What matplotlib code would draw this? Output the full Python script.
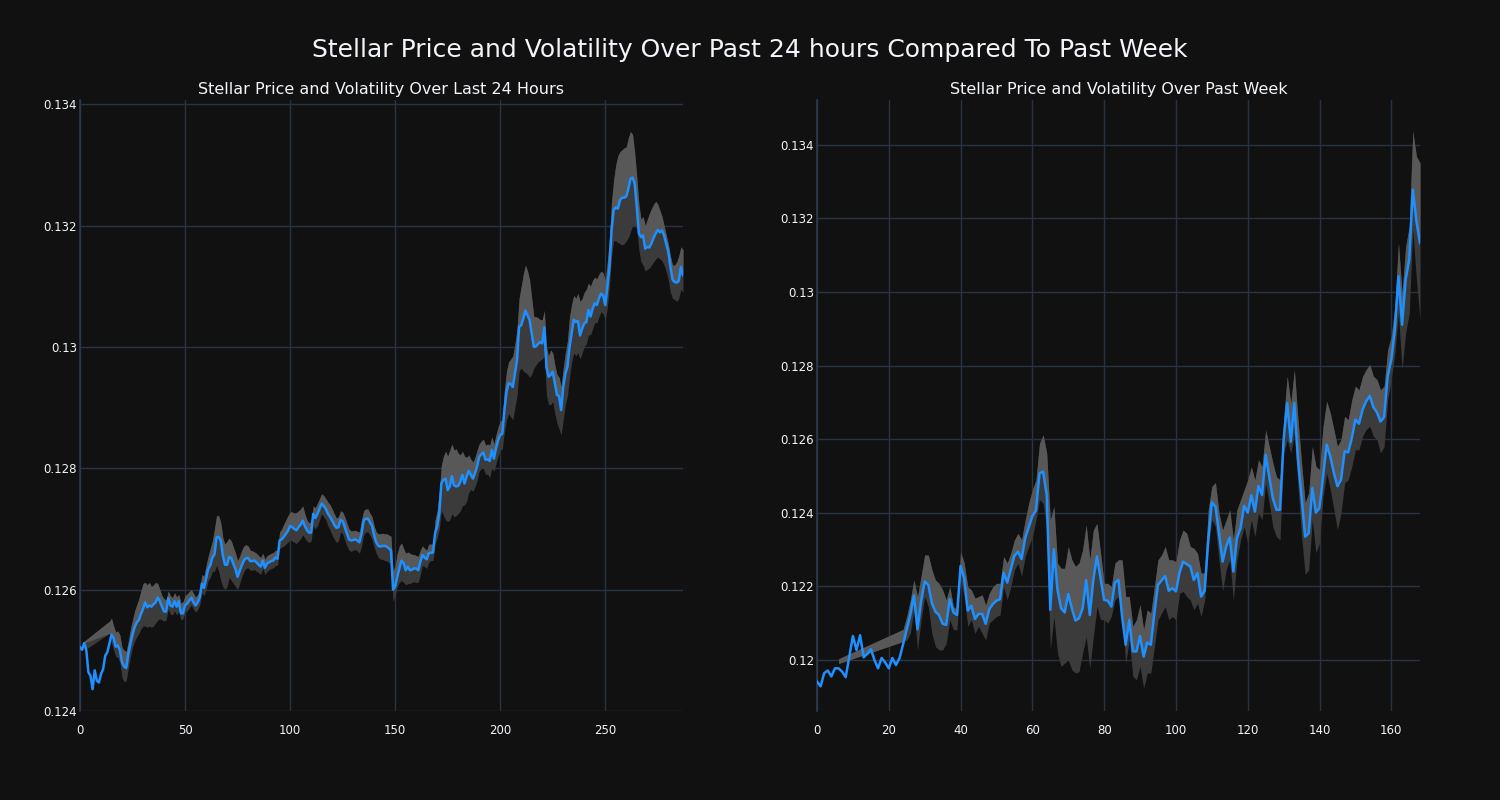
import numpy as np
import matplotlib
matplotlib.use("Agg")
import matplotlib.pyplot as plt
from matplotlib.ticker import FuncFormatter, MultipleLocator

N = None

# ---------------- Last 24 hours (5-minute samples) ----------------
day_price = [
    0.12505, 0.12501, 0.12512, 0.12500, 0.12464, 0.12458, 0.12436, 0.12467, 0.12450, 0.12447,
    0.12461, 0.12469, 0.12491, 0.12497, 0.12511, 0.12526, 0.12520, 0.12506, 0.12508, 0.12500,
    0.12480, 0.12473, 0.12471, 0.12494, 0.12511, 0.12526, 0.12538, 0.12546, 0.12550, 0.12560,
    0.12568, 0.12579, 0.12571, 0.12574, 0.12572, 0.12576, 0.12579, 0.12587, 0.12581, 0.12572,
    0.12564, 0.12564, 0.12586, 0.12574, 0.12572, 0.12581, 0.12572, 0.12581, 0.12561, 0.12561,
    0.12574, 0.12577, 0.12582, 0.12587, 0.12579, 0.12574, 0.12579, 0.12587, 0.12610, 0.12603,
    0.12618, 0.12634, 0.12640, 0.12653, 0.12658, 0.12686, 0.12687, 0.12681, 0.12656, 0.12641,
    0.12641, 0.12654, 0.12652, 0.12642, 0.12634, 0.12621, 0.12631, 0.12640, 0.12648, 0.12652,
    0.12652, 0.12647, 0.12647, 0.12648, 0.12645, 0.12641, 0.12638, 0.12648, 0.12636, 0.12643,
    0.12645, 0.12647, 0.12648, 0.12653, 0.12651, 0.12681, 0.12683, 0.12687, 0.12692, 0.12697,
    0.12705, 0.12703, 0.12700, 0.12698, 0.12703, 0.12707, 0.12714, 0.12705, 0.12698, 0.12694,
    0.12694, 0.12725, 0.12718, 0.12725, 0.12733, 0.12742, 0.12738, 0.12733, 0.12725, 0.12720,
    0.12714, 0.12707, 0.12702, 0.12703, 0.12715, 0.12713, 0.12703, 0.12693, 0.12683, 0.12681,
    0.12682, 0.12683, 0.12681, 0.12678, 0.12692, 0.12714, 0.12717, 0.12717, 0.12711, 0.12705,
    0.12689, 0.12678, 0.12672, 0.12671, 0.12672, 0.12672, 0.12671, 0.12668, 0.12665, 0.12600,
    0.12605, 0.12621, 0.12635, 0.12648, 0.12644, 0.12632, 0.12638, 0.12632, 0.12633, 0.12635,
    0.12635, 0.12632, 0.12646, 0.12657, 0.12653, 0.12650, 0.12660, 0.12661, 0.12661, 0.12693,
    0.12704, 0.12726, 0.12775, 0.12781, 0.12783, 0.12764, 0.12770, 0.12787, 0.12772, 0.12770,
    0.12771, 0.12778, 0.12789, 0.12775, 0.12786, 0.12796, 0.12789, 0.12783, 0.12792, 0.12803,
    0.12819, 0.12823, 0.12826, 0.12814, 0.12815, 0.12812, 0.12830, 0.12816, 0.12833, 0.12846,
    0.12855, 0.12857, 0.12896, 0.12926, 0.12940, 0.12939, 0.12934, 0.12956, 0.12978, 0.13033,
    0.13036, 0.13047, 0.13060, 0.13052, 0.13044, 0.13022, 0.13000, 0.13001, 0.13005, 0.13008,
    0.13006, 0.13032, 0.12967, 0.12951, 0.12954, 0.12959, 0.12940, 0.12921, 0.12919, 0.12896,
    0.12934, 0.12956, 0.12967, 0.13000, 0.13022, 0.13045, 0.13041, 0.13043, 0.13019, 0.13030,
    0.13039, 0.13041, 0.13061, 0.13050, 0.13063, 0.13072, 0.13069, 0.13080, 0.13088, 0.13085,
    0.13069, 0.13099, 0.13132, 0.13192, 0.13226, 0.13230, 0.13228, 0.13242, 0.13246, 0.13246,
    0.13248, 0.13261, 0.13277, 0.13279, 0.13269, 0.13231, 0.13187, 0.13181, 0.13184, 0.13162,
    0.13165, 0.13164, 0.13171, 0.13180, 0.13187, 0.13193, 0.13189, 0.13192, 0.13184, 0.13170,
    0.13157, 0.13132, 0.13111, 0.13107, 0.13106, 0.13109, 0.13132, 0.13118,
]

day_upper = [
    N, N, 0.12515, N, N, N, N, N, N, N, N, N, N, N,
    0.12548, 0.12553, 0.12540, 0.12530, 0.12532, 0.12525,
    0.12505, 0.12500, 0.12498, 0.12515, 0.12535, 0.12550, 0.12565, 0.12575, 0.12585, 0.12598,
    0.12610, 0.12612, 0.12608, 0.12612, 0.12605, 0.12608, 0.12612, 0.12610, 0.12600, 0.12590,
    0.12585, 0.12583, 0.12598, 0.12590, 0.12587, 0.12595, 0.12588, 0.12592, 0.12578, 0.12580,
    0.12590, 0.12593, 0.12597, 0.12600, 0.12594, 0.12588, 0.12592, 0.12600, 0.12625, 0.12622,
    0.12640, 0.12655, 0.12668, 0.12680, 0.12700, 0.12722, 0.12722, 0.12710, 0.12685, 0.12675,
    0.12680, 0.12685, 0.12680, 0.12670, 0.12660, 0.12648, 0.12655, 0.12665, 0.12672, 0.12674,
    0.12672, 0.12665, 0.12664, 0.12662, 0.12660, 0.12656, 0.12653, 0.12660, 0.12650, 0.12656,
    0.12658, 0.12660, 0.12661, 0.12665, 0.12665, 0.12695, 0.12700, 0.12708, 0.12715, 0.12722,
    0.12728, 0.12728, 0.12726, 0.12727, 0.12730, 0.12733, 0.12738, 0.12725, 0.12715, 0.12710,
    0.12712, 0.12738, 0.12735, 0.12742, 0.12750, 0.12758, 0.12755, 0.12750, 0.12744, 0.12740,
    0.12733, 0.12725, 0.12718, 0.12720, 0.12730, 0.12728, 0.12720, 0.12710, 0.12700, 0.12697,
    0.12697, 0.12698, 0.12696, 0.12695, 0.12715, 0.12730, 0.12733, 0.12733, 0.12726, 0.12720,
    0.12705, 0.12695, 0.12692, 0.12692, 0.12693, 0.12692, 0.12692, 0.12690, 0.12688, 0.12630,
    0.12640, 0.12660, 0.12672, 0.12677, 0.12668, 0.12660, 0.12662, 0.12660, 0.12658, 0.12658,
    0.12656, 0.12655, 0.12665, 0.12672, 0.12668, 0.12665, 0.12675, 0.12675, 0.12675, 0.12715,
    0.12730, 0.12760, 0.12805, 0.12820, 0.12828, 0.12820, 0.12830, 0.12840, 0.12830, 0.12832,
    0.12825, 0.12822, 0.12828, 0.12820, 0.12818, 0.12822, 0.12815, 0.12810, 0.12818, 0.12830,
    0.12840, 0.12845, 0.12848, 0.12838, 0.12840, 0.12838, 0.12852, 0.12840, 0.12855, 0.12868,
    0.12878, 0.12880, 0.12930, 0.12960, 0.12975, 0.12980, 0.12985, 0.13005, 0.13030, 0.13080,
    0.13100, 0.13120, 0.13135, 0.13125, 0.13110, 0.13080, 0.13050, 0.13050, 0.13048, 0.13045,
    0.13045, 0.13060, 0.13000, 0.12985, 0.12995, 0.12990, 0.12970, 0.12955, 0.12950, 0.12935,
    0.12965, 0.12990, 0.13010, 0.13050, 0.13070, 0.13085, 0.13080, 0.13088, 0.13075, 0.13080,
    0.13090, 0.13095, 0.13105, 0.13100, 0.13110, 0.13115, 0.13112, 0.13120, 0.13125, 0.13122,
    0.13110, 0.13140, 0.13180, 0.13240, 0.13275, 0.13300, 0.13315, 0.13322, 0.13325, 0.13328,
    0.13330, 0.13345, 0.13355, 0.13350, 0.13320, 0.13280, 0.13235, 0.13210, 0.13215, 0.13200,
    0.13210, 0.13220, 0.13228, 0.13235, 0.13240, 0.13235, 0.13225, 0.13215, 0.13200, 0.13185,
    0.13170, 0.13150, 0.13135, 0.13135, 0.13140, 0.13150, 0.13165, 0.13160,
]

day_lower = [
    N, N, 0.12500, N, N, N, N, N, N, N, N, N, N, N,
    0.12528, 0.12513, 0.12500, 0.12490, 0.12488, 0.12480,
    0.12455, 0.12448, 0.12450, 0.12470, 0.12490, 0.12505, 0.12515, 0.12522, 0.12528, 0.12535,
    0.12540, 0.12540, 0.12538, 0.12540, 0.12538, 0.12540, 0.12545, 0.12550, 0.12552, 0.12550,
    0.12548, 0.12550, 0.12568, 0.12560, 0.12558, 0.12565, 0.12558, 0.12565, 0.12550, 0.12552,
    0.12562, 0.12565, 0.12570, 0.12575, 0.12568, 0.12563, 0.12567, 0.12575, 0.12595, 0.12590,
    0.12600, 0.12615, 0.12620, 0.12630, 0.12630, 0.12640, 0.12630, 0.12615, 0.12605, 0.12600,
    0.12605, 0.12620, 0.12615, 0.12610, 0.12605, 0.12600, 0.12610, 0.12622, 0.12630, 0.12635,
    0.12636, 0.12632, 0.12632, 0.12633, 0.12630, 0.12628, 0.12625, 0.12635, 0.12625, 0.12630,
    0.12633, 0.12635, 0.12636, 0.12640, 0.12640, 0.12668, 0.12670, 0.12672, 0.12675, 0.12678,
    0.12682, 0.12680, 0.12678, 0.12676, 0.12680, 0.12684, 0.12690, 0.12685, 0.12680, 0.12678,
    0.12680, 0.12705, 0.12700, 0.12705, 0.12715, 0.12725, 0.12720, 0.12715, 0.12705, 0.12698,
    0.12690, 0.12683, 0.12678, 0.12680, 0.12695, 0.12692, 0.12682, 0.12672, 0.12665, 0.12663,
    0.12665, 0.12666, 0.12664, 0.12660, 0.12672, 0.12690, 0.12695, 0.12695, 0.12690, 0.12682,
    0.12670, 0.12660, 0.12653, 0.12650, 0.12650, 0.12648, 0.12647, 0.12645, 0.12642, 0.12580,
    0.12590, 0.12605, 0.12612, 0.12615, 0.12612, 0.12608, 0.12610, 0.12610, 0.12612, 0.12613,
    0.12612, 0.12612, 0.12625, 0.12640, 0.12638, 0.12635, 0.12645, 0.12648, 0.12648, 0.12675,
    0.12685, 0.12700, 0.12730, 0.12722, 0.12715, 0.12712, 0.12715, 0.12725, 0.12720, 0.12722,
    0.12725, 0.12730, 0.12738, 0.12740, 0.12745, 0.12760, 0.12765, 0.12762, 0.12770, 0.12780,
    0.12795, 0.12800, 0.12800, 0.12790, 0.12790, 0.12785, 0.12800, 0.12795, 0.12808, 0.12820,
    0.12830, 0.12832, 0.12860, 0.12880, 0.12890, 0.12885, 0.12880, 0.12900, 0.12920, 0.12960,
    0.12965, 0.12960, 0.12958, 0.12955, 0.12950, 0.12955, 0.12965, 0.12970, 0.12975, 0.12978,
    0.12980, 0.12985, 0.12920, 0.12905, 0.12905, 0.12910, 0.12890, 0.12875, 0.12865, 0.12855,
    0.12880, 0.12905, 0.12920, 0.12950, 0.12975, 0.12990, 0.12985, 0.12990, 0.12980, 0.12990,
    0.13000, 0.13005, 0.13020, 0.13020, 0.13030, 0.13040, 0.13040, 0.13050, 0.13058, 0.13055,
    0.13045, 0.13065, 0.13100, 0.13150, 0.13175, 0.13175, 0.13172, 0.13170, 0.13168, 0.13170,
    0.13175, 0.13180, 0.13190, 0.13200, 0.13200, 0.13195, 0.13160, 0.13140, 0.13135, 0.13125,
    0.13128, 0.13130, 0.13135, 0.13140, 0.13145, 0.13148, 0.13145, 0.13142, 0.13135, 0.13125,
    0.13110, 0.13090, 0.13080, 0.13078, 0.13075, 0.13080, 0.13095, 0.13090,
]

# ---------------- Past week (hourly samples) ----------------
week_price = [
    0.11941, 0.11928, 0.11964, 0.11971, 0.11955, 0.11977, 0.11977, 0.11968, 0.11953, 0.12009,
    0.12065, 0.12027, 0.12067, 0.12007, 0.12016, 0.12029, 0.12000, 0.11977, 0.12005, 0.11993,
    0.11977, 0.12005, 0.11986, 0.12005, 0.12043, 0.12083, 0.12122, 0.12175, 0.12083, 0.12159,
    0.12213, 0.12204, 0.12154, 0.12131, 0.12122, 0.12098, 0.12095, 0.12165, 0.12129, 0.12122,
    0.12255, 0.12222, 0.12134, 0.12147, 0.12111, 0.12125, 0.12125, 0.12098, 0.12138, 0.12152,
    0.12161, 0.12165, 0.12237, 0.12210, 0.12246, 0.12283, 0.12294, 0.12274, 0.12331, 0.12361,
    0.12391, 0.12406, 0.12507, 0.12512, 0.12448, 0.12136, 0.12301, 0.12190, 0.12140, 0.12129,
    0.12179, 0.12140, 0.12107, 0.12113, 0.12140, 0.12217, 0.12122, 0.12219, 0.12281, 0.12222,
    0.12163, 0.12161, 0.12145, 0.12210, 0.12217, 0.12118, 0.12041, 0.12109, 0.12023, 0.12023,
    0.12065, 0.12009, 0.12047, 0.12041, 0.12127, 0.12204, 0.12216, 0.12228, 0.12188, 0.12195,
    0.12186, 0.12237, 0.12267, 0.12260, 0.12254, 0.12217, 0.12236, 0.12172, 0.12188, 0.12326,
    0.12428, 0.12417, 0.12344, 0.12267, 0.12308, 0.12333, 0.12240, 0.12331, 0.12358, 0.12419,
    0.12400, 0.12447, 0.12403, 0.12473, 0.12448, 0.12557, 0.12498, 0.12439, 0.12408, 0.12408,
    0.12598, 0.12698, 0.12593, 0.12698, 0.12544, 0.12444, 0.12335, 0.12344, 0.12467, 0.12400,
    0.12413, 0.12499, 0.12585, 0.12553, 0.12508, 0.12472, 0.12490, 0.12567, 0.12564, 0.12603,
    0.12653, 0.12642, 0.12680, 0.12703, 0.12718, 0.12687, 0.12673, 0.12648, 0.12660, 0.12771,
    0.12816, 0.12898, 0.13043, 0.12911, 0.13034, 0.13088, 0.13278, 0.13192, 0.13133,
]

week_upper = [
    N, N, N, N, N, N, 0.12003, N, N, N, N, N, N, N, N, N, N, N, N, N, N, N, N, N,
    0.12083, 0.12118, 0.12163, 0.12217, 0.12172, 0.12227,
    0.12285, 0.12285, 0.12245, 0.12217, 0.12208, 0.12190, 0.12163, 0.12199, 0.12145, 0.12136,
    0.12294, 0.12263, 0.12199, 0.12190, 0.12168, 0.12172, 0.12177, 0.12149, 0.12181, 0.12199,
    0.12208, 0.12208, 0.12281, 0.12263, 0.12290, 0.12326, 0.12344, 0.12326, 0.12380, 0.12426,
    0.12462, 0.12489, 0.12589, 0.12612, 0.12562, 0.12380, 0.12417, 0.12263, 0.12249, 0.12249,
    0.12308, 0.12272, 0.12254, 0.12263, 0.12299, 0.12367, 0.12272, 0.12353, 0.12371, 0.12290,
    0.12208, 0.12208, 0.12199, 0.12263, 0.12272, 0.12272, 0.12172, 0.12172, 0.12091, 0.12109,
    0.12150, 0.12082, 0.12136, 0.12127, 0.12199, 0.12272, 0.12285, 0.12308, 0.12272, 0.12272,
    0.12267, 0.12326, 0.12353, 0.12344, 0.12308, 0.12303, 0.12290, 0.12236, 0.12236, 0.12408,
    0.12471, 0.12482, 0.12399, 0.12353, 0.12380, 0.12408, 0.12326, 0.12408, 0.12435, 0.12462,
    0.12489, 0.12525, 0.12489, 0.12544, 0.12525, 0.12625, 0.12580, 0.12535, 0.12498, 0.12489,
    0.12653, 0.12771, 0.12698, 0.12789, 0.12653, 0.12535, 0.12427, 0.12454, 0.12580, 0.12526,
    0.12517, 0.12635, 0.12703, 0.12671, 0.12626, 0.12580, 0.12599, 0.12662, 0.12653, 0.12707,
    0.12744, 0.12734, 0.12771, 0.12789, 0.12803, 0.12771, 0.12762, 0.12734, 0.12744, 0.12843,
    0.12880, 0.12961, 0.13133, 0.12997, 0.13124, 0.13178, 0.13437, 0.13369, 0.13351,
]

week_lower = [
    N, N, N, N, N, N, 0.11990, N, N, N, N, N, N, N, N, N, N, N, N, N, N, N, N, N,
    0.12050, 0.12054, 0.12072, 0.12136, 0.12027, 0.12109,
    0.12172, 0.12145, 0.12072, 0.12036, 0.12027, 0.12027, 0.12045, 0.12109, 0.12082, 0.12082,
    0.12217, 0.12172, 0.12091, 0.12109, 0.12072, 0.12091, 0.12072, 0.12054, 0.12100, 0.12109,
    0.12118, 0.12122, 0.12199, 0.12163, 0.12199, 0.12245, 0.12263, 0.12227, 0.12281, 0.12308,
    0.12335, 0.12380, 0.12435, 0.12426, 0.12353, 0.12027, 0.12118, 0.12018, 0.11982, 0.11991,
    0.12000, 0.11973, 0.11964, 0.11968, 0.12018, 0.12063, 0.11977, 0.12063, 0.12145, 0.12109,
    0.12109, 0.12100, 0.12118, 0.12163, 0.12172, 0.12127, 0.11991, 0.12054, 0.11955, 0.11946,
    0.11982, 0.11923, 0.11964, 0.11964, 0.12036, 0.12109, 0.12127, 0.12145, 0.12109, 0.12118,
    0.12109, 0.12181, 0.12186, 0.12172, 0.12163, 0.12136, 0.12154, 0.12118, 0.12163, 0.12299,
    0.12381, 0.12362, 0.12272, 0.12186, 0.12245, 0.12272, 0.12163, 0.12272, 0.12326, 0.12362,
    0.12317, 0.12381, 0.12335, 0.12399, 0.12381, 0.12480, 0.12426, 0.12362, 0.12335, 0.12326,
    0.12562, 0.12599, 0.12562, 0.12617, 0.12472, 0.12336, 0.12232, 0.12245, 0.12381, 0.12291,
    0.12318, 0.12445, 0.12508, 0.12463, 0.12408, 0.12354, 0.12399, 0.12481, 0.12490, 0.12526,
    0.12571, 0.12571, 0.12608, 0.12626, 0.12635, 0.12608, 0.12599, 0.12562, 0.12580, 0.12707,
    0.12762, 0.12834, 0.12943, 0.12789, 0.12889, 0.12943, 0.13169, 0.13034, 0.12925,
]

suptitle = "Stellar Price and Volatility Over Past 24 hours Compared To Past Week"
titles = ["Stellar Price and Volatility Over Last 24 Hours",
          "Stellar Price and Volatility Over Past Week"]

BG = "#111111"
GRID = "#283442"
SPINE = "#2c3b50"
TXT = "#f2f5fa"
LINE = "#1e90ff"
BAND_LO = "#3b3b3b"
BAND_HI = "#585858"

fig = plt.figure(figsize=(15, 8), dpi=100, facecolor=BG)
ax1 = fig.add_axes([80 / 1500, 1 - 711 / 800, 603 / 1500, 611 / 800])
ax2 = fig.add_axes([817 / 1500, 1 - 711 / 800, 603 / 1500, 611 / 800])

fmt = FuncFormatter(lambda v, p: "{:g}".format(round(v, 6)))


def draw(ax, price, upper, lower, title, xstep, ylim):
    price = np.asarray(price, dtype=float)
    up = np.asarray(upper, dtype=float)
    lo = np.asarray(lower, dtype=float)
    x = np.arange(len(price))
    m = ~np.isnan(up) & ~np.isnan(lo)
    bx, bu, bl, bp = x[m], up[m], lo[m], price[m]
    ax.set_facecolor(BG)
    ax.fill_between(bx, bl, bu, color=BAND_LO, lw=0, zorder=2)
    mid = np.minimum(np.maximum(bp, bl), bu)
    ax.fill_between(bx, mid, bu, color=BAND_HI, lw=0, zorder=2)
    ax.plot(x, price, color=LINE, lw=1.8, zorder=3)
    ax.set_xlim(0, len(price) - 1)
    ax.set_ylim(*ylim)
    ax.xaxis.set_major_locator(MultipleLocator(xstep))
    ax.yaxis.set_major_locator(MultipleLocator(0.002))
    ax.yaxis.set_major_formatter(fmt)
    ax.grid(True, color=GRID, lw=1, zorder=1)
    ax.set_axisbelow(True)
    for s in ["top", "right", "bottom"]:
        ax.spines[s].set_visible(False)
    ax.spines["left"].set_color(SPINE)
    ax.spines["left"].set_linewidth(1.2)
    ax.tick_params(axis="y", length=0, pad=2, labelsize=8.5, labelcolor=TXT)
    ax.tick_params(axis="x", length=0, pad=9, labelsize=8.5, labelcolor=TXT)
    ax.set_title(title, color=TXT, fontsize=11.5, pad=4)


draw(ax1, day_price, day_upper, day_lower, titles[0], 50, (0.124, 0.13407))
draw(ax2, week_price, week_upper, week_lower, titles[1], 20, (0.11861, 0.13522))

fig.text(0.5, 1 - 50 / 800, suptitle, ha="center", va="center", color=TXT, fontsize=18)

fig.savefig("out.png", dpi=100, facecolor=BG)
